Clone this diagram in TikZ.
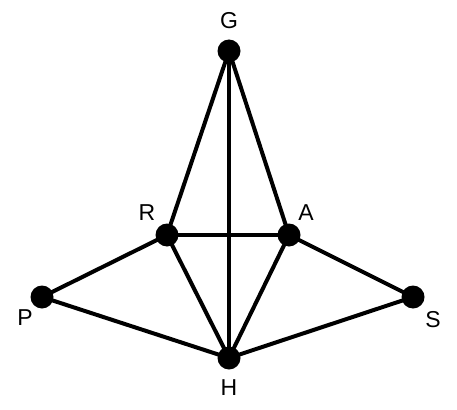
\documentclass[tikz,border=0pt]{standalone}
\usepackage{fontspec}
\setmainfont{Liberation Sans}
\begin{document}
\begin{tikzpicture}[x=1pt,y=-1pt,
  vtx/.style={circle,fill=black,inner sep=0pt,minimum size=23pt},
  lbl/.style={font=\fontsize{23}{26}\selectfont,inner sep=0pt},
  edge/.style={line width=4pt}]
\useasboundingbox (0,0) rectangle (457,409);
\node[vtx] (G) at (229,51) {};
\node[vtx] (R) at (167,235) {};
\node[vtx] (A) at (289,235) {};
\node[vtx] (P) at (42,297) {};
\node[vtx] (S) at (413,297) {};
\node[vtx] (H) at (229,358) {};
\node[lbl] (lG) at (229,21) {G};
\node[lbl] (lR) at (147,213) {R};
\node[lbl] (lA) at (306,213) {A};
\node[lbl] (lP) at (25,318) {P};
\node[lbl] (lS) at (433,320) {S};
\node[lbl] (lH) at (229,388) {H};
\draw[edge] (G.center) -- (R.center);
\draw[edge] (G.center) -- (A.center);
\draw[edge] (G.center) -- (H.center);
\draw[edge] (R.center) -- (A.center);
\draw[edge] (R.center) -- (H.center);
\draw[edge] (A.center) -- (H.center);
\draw[edge] (P.center) -- (R.center);
\draw[edge] (P.center) -- (H.center);
\draw[edge] (S.center) -- (A.center);
\draw[edge] (S.center) -- (H.center);
\end{tikzpicture}
\end{document}
